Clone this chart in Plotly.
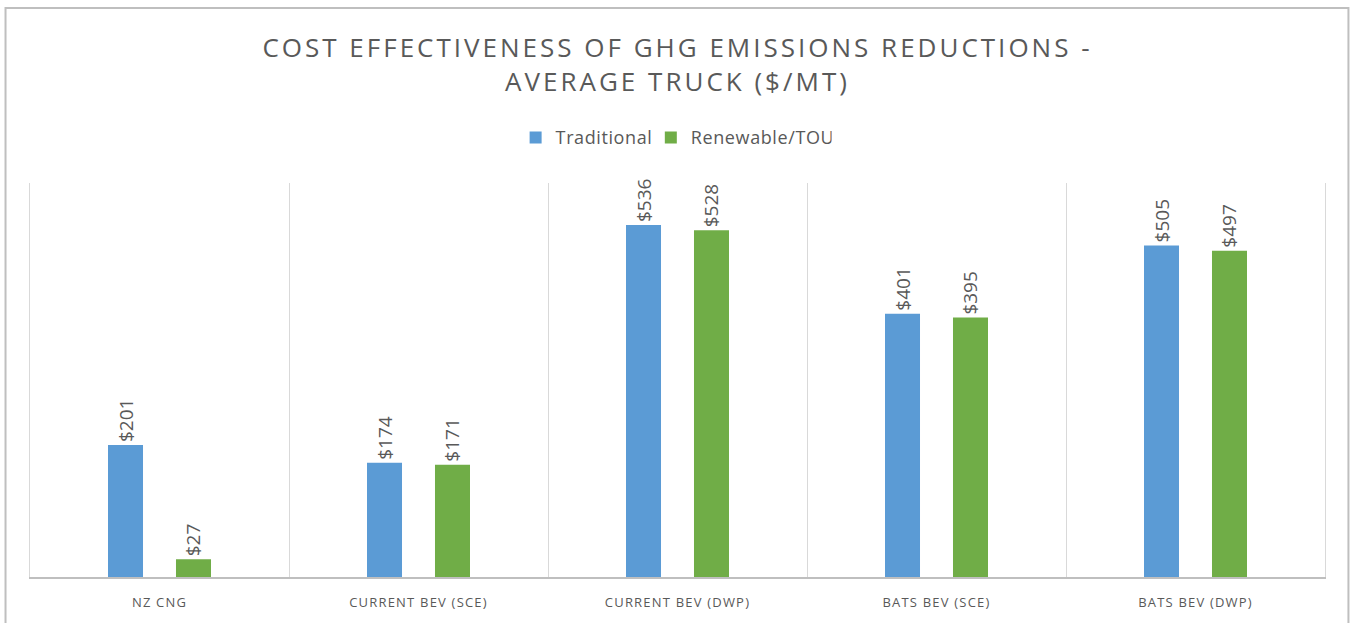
import plotly.graph_objects as go

categories = ["NZ CNG", "CURRENT BEV (SCE)", "CURRENT BEV (DWP)", "BATS BEV (SCE)", "BATS BEV (DWP)"]
traditional = [201, 174, 536, 401, 505]
renewable = [27, 171, 528, 395, 497]
series_names = ["Traditional", "Renewable/TOU"]

GRAY = "#595959"
FONT = "Open Sans"

fig = go.Figure()
for name, vals, color in [(series_names[0], traditional, "#5B9BD5"),
                          (series_names[1], renewable, "#70AD47")]:
    fig.add_trace(go.Bar(
        name=name, x=categories, y=vals,
        marker=dict(color=color, line=dict(width=0)),
        texttemplate="$%{y}", textposition="outside", textangle=-90,
        textfont=dict(family=FONT, size=19, color=GRAY),
        cliponaxis=False, constraintext="none",
    ))

fig.update_layout(
    width=1351, height=623,
    paper_bgcolor="white", plot_bgcolor="white",
    margin=dict(l=30, r=26, t=183, b=44),
    barmode="group", bargap=0.475, bargroupgap=0.485,
    title=dict(
        text="COST EFFECTIVENESS OF GHG EMISSIONS REDUCTIONS -<br>AVERAGE TRUCK ($/MT)",
        x=0.5, xanchor="center", xref="paper", y=0.908, yanchor="middle",
        font=dict(family=FONT, size=26, color=GRAY),
    ),
    legend=dict(
        orientation="h", x=0.497, xanchor="center", y=1.115, yanchor="middle",
        font=dict(family=FONT, size=18, color=GRAY),
        itemwidth=30, traceorder="normal",
    ),
    showlegend=True,
    xaxis=dict(
        type="category", tickson="boundaries", showgrid=True, gridcolor="#d9d9d9", gridwidth=1,
        showline=True, linecolor="#bfbfbf", linewidth=1.5, ticks="",
        tickfont=dict(family=FONT, size=13, color=GRAY), ticklabelstandoff=13,
    ),
    yaxis=dict(
        range=[0, 600], showgrid=False, showticklabels=False, zeroline=False,
        showline=True, mirror=True, linecolor="#d9d9d9", linewidth=1, ticks="",
    ),
    shapes=[dict(type="rect", xref="paper", yref="paper",
                 x0=-0.0189, x1=1.0181, y0=-0.2, y1=1.444,
                 line=dict(color="#bfbfbf", width=2), layer="below")],
)

post = """
document.body.style.margin='0';
document.querySelectorAll('.gtitle').forEach(function(e){e.style.letterSpacing='3px';});
document.querySelectorAll('.xtick text').forEach(function(e){e.style.letterSpacing='1.2px';});
document.querySelectorAll('.legendtext').forEach(function(e){e.style.letterSpacing='0.6px';});
"""
fig.write_html("out.html", post_script=post, config={"displayModeBar": False})
